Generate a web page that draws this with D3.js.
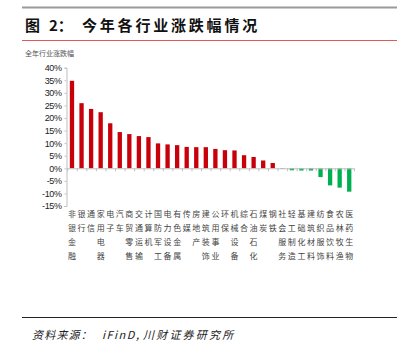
<!DOCTYPE html>
<html>
<head>
<meta charset="utf-8">
<script src="https://cdn.jsdelivr.net/npm/d3@7"></script>
<style>
  body { margin: 0; background: #fff; }
</style>
</head>
<body>
<div id="chart"></div>
<script>
// 行业名称
const categories = ["非银金融", "银行", "通信", "家用电器", "电子", "汽车", "商贸零售", "交通运输",
  "计算机", "国防军工", "电力设备", "有色金属", "传媒", "房地产", "建筑装饰", "公用事业",
  "环保", "机械设备", "综合", "石油石化", "煤炭", "钢铁", "社会服务", "轻工制造",
  "基础化工", "建筑材料", "纺织服饰", "食品饮料", "农林牧渔", "医药生物"];
// 全年涨跌幅 (%)
const values = [34.8, 25.9, 23.6, 22.3, 17.9, 14.4, 13.6, 12.8, 12.4, 9.9, 9.5, 9.2, 8.5, 8.4,
  8.4, 7.7, 7.2, 7.1, 5.2, 4.5, 3.1, 2.1, -0.2, -0.8, -0.9, -0.9, -3.5, -6.8, -7.7, -9.3];
const yTicks = [40, 35, 30, 25, 20, 15, 10, 5, 0, -5, -10, -15];

const width = 416, height = 354;
const svg = d3.select("#chart").append("svg")
  .attr("width", width).attr("height", height);

const cjk = "'Noto Sans CJK SC'";

// top gray rule
svg.append("line").attr("x1", 22).attr("x2", 397).attr("y1", 7.5).attr("y2", 7.5)
  .attr("stroke", "#9a9a9a").attr("stroke-width", 2);

// title, in three pieces to keep the wide spacing
const title = svg.append("g").style("font-family", cjk).style("font-weight", "bold")
  .style("font-size", "15px").attr("fill", "#111");
title.append("text").attr("x", 25).attr("y", 31).text("图");
title.append("text").attr("x", 49).attr("y", 31).text("2：");
title.append("text").attr("x", 82).attr("y", 31).style("letter-spacing", "2.8px")
  .text("今年各行业涨跌幅情况");

// red rule under title
svg.append("line").attr("x1", 22).attr("x2", 397).attr("y1", 40.5).attr("y2", 40.5)
  .attr("stroke", "#e05a5a").attr("stroke-width", 1);

// subtitle
svg.append("text").attr("x", 25).attr("y", 56)
  .style("font-family", cjk).style("font-size", "7px")
  .attr("fill", "#555").text("全年行业涨跌幅");

// scales
const x = d3.scaleBand().domain(categories).range([67.2, 354]).paddingInner(0.55).paddingOuter(0.275);
const y = d3.scaleLinear().domain([-15, 40]).range([206, 67.7]);

// y axis
const yAxis = svg.append("g").attr("transform", "translate(66.5,0)")
  .call(d3.axisLeft(y).tickValues(yTicks).tickSize(2).tickPadding(3).tickFormat(d => d + "%"));
yAxis.select(".domain").attr("stroke", "#bfbfbf");
yAxis.selectAll(".tick line").attr("stroke", "#bfbfbf");
yAxis.selectAll("text").style("font-family", "'Liberation Sans', Arial")
  .style("font-size", "9px").style("letter-spacing", "-0.4px").attr("fill", "#222");

// bars
svg.append("g").selectAll("rect").data(values).enter().append("rect")
  .attr("x", (d, i) => x(categories[i]))
  .attr("width", x.bandwidth())
  .attr("y", d => y(Math.max(0, d)))
  .attr("height", d => Math.abs(y(d) - y(0)))
  .attr("fill", d => d >= 0 ? "#c8000a" : "#00b050");

// zero line with small ticks at band boundaries
const step = x.step();
const x0 = x.range()[0];
svg.append("line").attr("x1", x0).attr("x2", x.range()[1])
  .attr("y1", y(0) + 0.5).attr("y2", y(0) + 0.5).attr("stroke", "#bfbfbf");
svg.append("g").selectAll("line").data(d3.range(categories.length + 1)).enter().append("line")
  .attr("x1", i => x0 + i * step + 0.5).attr("x2", i => x0 + i * step + 0.5)
  .attr("y1", y(0)).attr("y2", y(0) + 3).attr("stroke", "#bfbfbf");

// vertical category labels
const labels = svg.append("g");
categories.forEach((c, i) => {
  const cx = x(c) + x.bandwidth() / 2;
  c.split("").forEach((ch, j) => {
    labels.append("text").attr("x", cx).attr("y", 217 + j * 14)
      .attr("text-anchor", "middle")
      .style("font-family", cjk).style("font-size", "8px")
      .attr("fill", "#444").text(ch);
  });
});

// bottom rule
svg.append("line").attr("x1", 22).attr("x2", 397).attr("y1", 317.5).attr("y2", 317.5)
  .attr("stroke", "#222").attr("stroke-width", 1);

// source
const src = svg.append("g").style("font-family", cjk).style("font-style", "italic")
  .style("font-size", "11px").attr("fill", "#222");
src.append("text").attr("x", 32).attr("y", 339).style("letter-spacing", "1.2px").text("资料来源：");
src.append("text").attr("x", 102).attr("y", 339).style("letter-spacing", "1.5px").text("iFinD,");
src.append("text").attr("x", 143).attr("y", 339).style("letter-spacing", "2.2px").text("川财证券研究所");
</script>
</body>
</html>
